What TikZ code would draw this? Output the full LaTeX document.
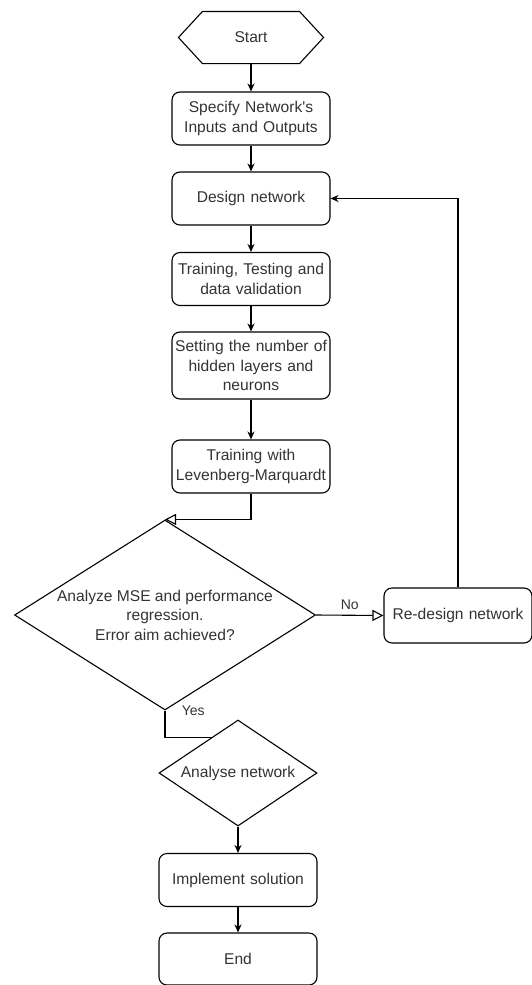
\documentclass[tikz,border=0pt]{standalone}
\usepackage{fontspec}
\setmainfont[Ligatures=TeXOff]{Liberation Sans}
\usetikzlibrary{arrows.meta, positioning, calc, shapes.geometric}
\definecolor{txc}{HTML}{333333}

\begin{document}
\begin{tikzpicture}[x=1pt, y=-1pt, >={Stealth[length=8pt, width=7pt]},
          line width=1.1pt, font=\fontsize{15.6}{19.5}\selectfont,
          proc/.style={rectangle, rounded corners=8pt, draw, text=txc,
                       minimum width=158pt, minimum height=53pt,
                       text width=154pt, align=center, inner sep=0pt},
          decis/.style={diamond, draw, inner sep=0pt},
          opentip/.style={-{Triangle[open, length=11pt, width=11pt]}},
          lbl/.style={text=txc, font=\fontsize{14}{17}\selectfont}]
        \useasboundingbox (0,0) rectangle (532,985);
        % main column
        \node[minimum width=144pt, minimum height=51pt, inner sep=0pt,
              text=txc] (start) at (251,37.5) {Start};
        \draw ($(start.west)$) -- ($(start.north west)+(24,0)$)
              -- ($(start.north east)+(-24,0)$) -- (start.east)
              -- ($(start.south east)+(-24,0)$)
              -- ($(start.south west)+(24,0)$) -- cycle;
        \node[proc] (spec) at (251,118.5) {Specify Network's\\Inputs and Outputs};
        \node[proc] (design) at (251,198.5) {Design network};
        \node[proc] (train) at (251,279) {Training, Testing and\\data validation};
        \node[proc, minimum height=67pt] (hidden) at (251,365.5)
              {Setting the number of\\hidden layers and\\neurons};
        \node[proc] (lm) at (251,466.5) {Training with\\Levenberg-Marquardt};
        \node[decis, minimum width=301pt, minimum height=190pt,
              label={[text=txc, align=center]center:Analyze MSE and performance\\
              regression.\\Error aim achieved?}] (mse) at (165,615) {};
        \node[proc, minimum width=148pt, text width=144pt, minimum height=55pt]
              (redesign) at (458,615.5) {Re-design network};
        \node[decis, minimum width=158pt, minimum height=106pt,
              label={[text=txc]center:Analyse network}] (anal) at (238,773) {};
        \node[proc] (impl) at (238,880) {Implement solution};
        \node[proc, minimum height=52pt] (end) at (238,959) {End};
        % connectors
        \draw[->] (start) -- (spec);
        \draw[->] (spec) -- (design);
        \draw[->] (design) -- (train);
        \draw[->] (train) -- (hidden);
        \draw[->] (hidden) -- (lm);
        \draw[opentip] (lm.south) |- (mse.north);
        \draw[opentip] (mse.east) -- node[lbl, above=2pt] {No} (redesign.west);
        \draw[->] (redesign.north) |- (design.east);
        \draw (mse.south) |- node[lbl, pos=0, right=13pt] {Yes} (anal.127);
        \draw[->] (anal) -- (impl);
        \draw[->] (impl) -- (end);
      \end{tikzpicture}
\end{document}
